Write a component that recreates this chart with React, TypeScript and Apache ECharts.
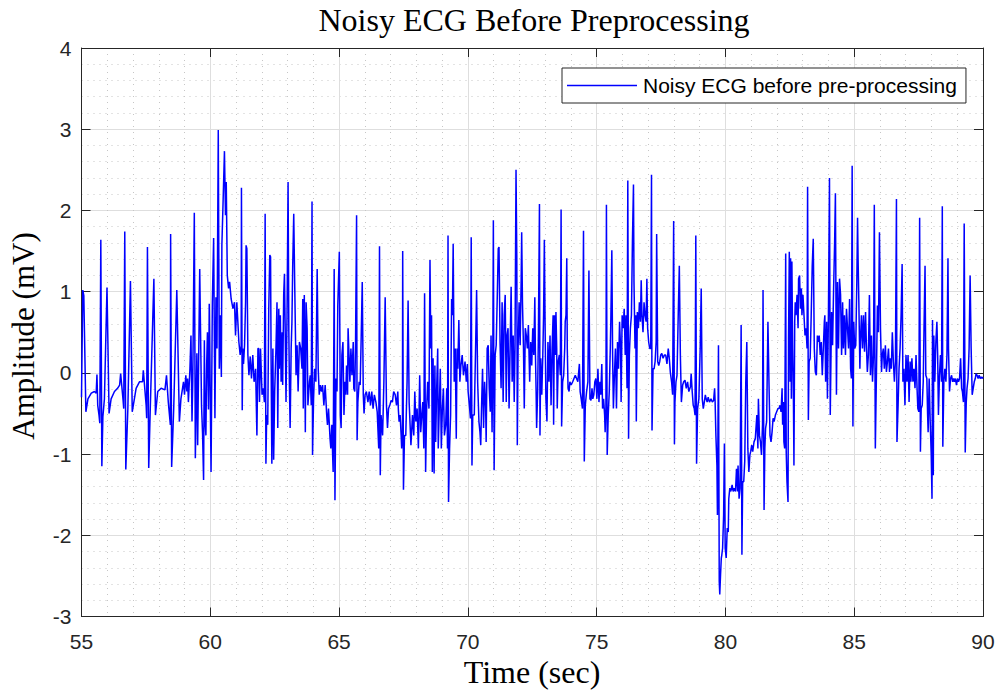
import React, { useEffect, useRef } from "react";
import * as echarts from "echarts";

// Time (sec), amplitude (mV) samples, in six segments
const seg1: number[][] = [
  [55.00,-0.30],[55.05,1.02],[55.09,0.95],[55.17,-0.48],[55.25,-0.32],[55.38,-0.25],[55.50,-0.23],[55.57,-0.25],[55.60,-0.02],[55.63,-0.40],
  [55.68,-0.52],[55.71,-0.62],[55.75,1.64],[55.79,-1.15],[55.83,-0.54],[55.89,-0.32],[55.99,1.05],[56.07,-0.50],[56.15,-0.32],[56.28,-0.23],
  [56.40,-0.19],[56.48,-0.15],[56.52,-0.01],[56.61,-0.32],[56.64,-0.44],[56.68,1.74],[56.72,-1.19],[56.80,-0.44],[56.90,1.13],[56.97,-0.48],
  [57.12,-0.19],[57.25,-0.11],[57.37,-0.11],[57.40,0.03],[57.51,-0.40],[57.53,-0.56],[57.56,1.55],[57.61,-1.17],[57.67,-0.44],[57.81,1.16],
  [57.87,-0.52],[57.96,-0.23],[58.09,-0.19],[58.24,-0.21],[58.30,-0.03],[58.37,-0.36],[58.45,-0.64],[58.46,1.71],[58.50,-1.16],[58.58,-0.44],
  [58.70,1.02],[58.80,-0.60],[58.86,-0.32],[58.96,-0.11],[59.00,-0.27],[59.05,-0.03],[59.09,-0.23],[59.12,-0.07],[59.15,-0.36],[59.21,0.05],
  [59.25,0.46],[59.29,-0.60],[59.32,-0.11],[59.38,1.97],[59.42,-1.05],[59.48,0.24],[59.51,-0.89],[59.59,1.28],[59.62,0.55],[59.66,-0.40],
  [59.70,-0.75],[59.74,-1.32],[59.77,0.40],[59.80,-0.60],[59.83,-0.77],[59.86,0.10],[59.89,0.50],[59.93,-0.45],[59.96,0.85],[60.00,-0.30],
  [60.03,-1.22],[60.08,0.87],[60.13,1.66],[60.18,-0.56],[60.22,0.93],[60.26,0.30],[60.31,2.99],[60.35,0.05],[60.39,0.71],[60.43,-0.05],
  [60.45,1.57],[60.50,2.14],[60.55,2.73],[60.59,1.94],[60.62,2.35],[60.66,1.20],[60.71,1.04]
];
const seg2: number[][] = [
  [60.75,1.12],[60.81,0.91],[60.88,0.79],[60.94,0.87],[60.98,0.46],[61.03,0.87],[61.07,0.63],[61.11,0.38],[61.16,0.22],[61.20,0.34],
  [61.21,2.28],[61.24,-0.46],[61.26,0.30],[61.29,0.11],[61.33,0.34],[61.37,0.87],[61.39,1.57],[61.42,1.53],[61.46,0.22],[61.50,-0.03],
  [61.55,0.20],[61.60,-0.07],[61.65,0.22],[61.70,-0.11],[61.76,0.05],[61.81,-0.77],[61.85,0.30],[61.88,0.30],[61.91,-0.36],[61.95,0.30],
  [62.01,-0.27],[62.06,-0.19],[62.10,-0.36],[62.13,1.96],[62.16,-1.12],[62.19,-0.52],[62.23,-0.64],[62.27,0.79],[62.31,1.45],[62.34,1.43],
  [62.36,0.22],[62.39,-1.12],[62.43,0.30],[62.46,-1.07],[62.50,-0.23],[62.55,0.30],[62.59,0.87],[62.62,-0.68],[62.66,0.79],[62.68,0.05],
  [62.72,0.71],[62.75,-0.11],[62.79,0.50],[62.81,-0.15],[62.85,0.96],[62.88,1.22],[62.92,0.22],[62.94,-0.36],[62.98,0.71],[63.02,2.35],
  [63.05,0.50],[63.07,-0.11],[63.10,-0.68],[63.14,0.30],[63.17,0.63],[63.20,1.32],[63.24,1.96],[63.28,1.04],[63.33,-0.03],[63.37,0.34],
  [63.41,-0.23],[63.46,0.38],[63.51,0.30],[63.56,0.05],[63.59,0.91],[63.61,-0.44],[63.65,0.96],[63.69,-0.73],[63.72,0.87],[63.76,0.55],
  [63.79,-0.40],[63.85,-0.11],[63.88,-0.03],[63.92,-0.40],[63.95,2.11],[63.97,-1.01],[64.01,-0.32],[64.05,0.05],[64.10,-0.11],[64.15,1.28],
  [64.19,0.05],[64.23,-0.27],[64.27,-0.15],[64.32,-0.23],[64.36,-0.15],[64.41,-0.40],[64.46,-0.15],[64.52,-0.52],[64.55,-0.64],[64.59,-0.44],
  [64.65,-0.81],[64.68,-0.93],[64.72,-0.64],[64.75,-1.01],[64.77,-1.22],[64.81,1.28],[64.84,-1.57],[64.88,-0.07],[64.92,-0.23],[64.95,0.83],
  [65.01,1.49],[65.05,-0.52],[65.08,-0.68],[65.11,0.22],[65.15,0.38],[65.19,-0.52],[65.23,-0.11],[65.26,-0.27],[65.29,0.09],[65.33,-0.27],
  [65.35,0.55],[65.39,0.18],[65.42,-0.11],[65.46,0.30],[65.50,-0.03],[65.55,0.38],[65.57,-0.19],[65.61,-0.23],[65.64,0.38],[65.68,1.94],
  [65.70,-0.83],[65.73,-0.36],[65.78,-0.11],[65.82,-0.15],[65.86,0.46],[65.90,1.12],[65.94,-0.27],[65.97,-0.50],[66.01,-0.27],[66.06,-0.23],
  [66.12,-0.36],[66.17,-0.23],[66.22,-0.40],[66.27,-0.23],[66.32,-0.44],[66.37,-0.27],[66.43,-0.36],[66.48,-0.48],[66.54,-0.93],[66.57,1.56],
  [66.60,-1.26]
];
const seg3: number[][] = [
  [66.63,-0.52],[66.69,-0.77],[66.74,-0.11],[66.79,0.93],[66.84,-0.40],[66.88,-0.68],[66.92,-0.44],[66.97,-0.40],[67.02,-0.34],[67.07,-0.36],
  [67.12,-0.23],[67.18,-0.27],[67.23,-0.40],[67.28,-0.23],[67.30,-0.44],[67.33,-0.60],[67.37,-0.52],[67.41,-0.77],[67.43,-0.93],[67.46,-0.73],
  [67.47,1.50],[67.50,-1.44],[67.54,-0.77],[67.59,-0.77],[67.64,-0.11],[67.68,0.89],[67.72,-0.36],[67.76,-0.66],[67.79,-0.89],[67.85,-0.52],
  [67.90,-0.77],[67.94,-0.23],[67.98,-0.60],[68.03,-0.44],[68.08,-0.93],[68.13,-0.03],[68.17,-0.73],[68.21,-0.52],[68.25,-0.36],[68.29,-0.93],
  [68.32,0.98],[68.36,-1.22],[68.40,-0.44],[68.44,-0.11],[68.49,-0.44],[68.53,1.39],[68.56,0.30],[68.59,0.71],[68.62,-1.22],[68.65,0.18],
  [68.69,-1.24],[68.72,0.09],[68.75,-0.85],[68.79,-0.19],[68.83,0.30],[68.85,-0.93],[68.89,-0.44],[68.93,0.05],[68.97,-0.93],[69.01,-0.44],
  [69.05,-0.19],[69.09,-0.77],[69.14,-0.64],[69.18,-0.19],[69.21,-0.93],[69.23,1.69],[69.25,-1.59],[69.29,-0.93],[69.33,-0.52],[69.37,0.91],
  [69.40,0.71],[69.43,1.59],[69.47,-0.11],[69.51,0.30],[69.55,-0.81],[69.58,0.30],[69.61,0.05],[69.65,0.65],[69.69,-0.11],[69.73,0.09],
  [69.78,0.22],[69.83,-0.03],[69.89,0.14],[69.94,-0.11],[69.98,0.11],[70.01,-0.23],[70.07,-0.44],[70.10,-0.56],[70.13,1.67],[70.16,-1.14],
  [70.19,-0.52],[70.25,-0.52],[70.30,0.30],[70.34,1.02],[70.38,-0.11],[70.43,-0.60],[70.47,-0.73],[70.50,-0.89],[70.53,-0.44],[70.57,0.05],
  [70.61,-0.68],[70.65,-0.11],[70.69,-0.40],[70.71,-0.85],[70.75,0.30],[70.79,0.34],[70.83,-0.19],[70.87,-0.48],[70.90,0.46],[70.94,-0.73],
  [70.97,0.30],[70.99,1.88],[71.02,-1.20],[71.06,0.22],[71.10,0.34],[71.14,0.91],[71.18,1.53],[71.21,1.55],[71.25,0.38],[71.29,-0.19],
  [71.33,0.87],[71.37,-0.36],[71.41,0.71],[71.45,0.96],[71.49,-0.36],[71.52,0.46],[71.56,0.55],[71.60,-0.44],[71.64,0.30],[71.68,1.06],
  [71.72,-0.11],[71.76,0.46],[71.80,-0.36],[71.83,0.30],[71.87,2.50],[71.90,1.45],[71.92,-0.89],[71.95,0.30],[71.99,0.87],[72.03,0.34],
  [72.07,1.16],[72.09,1.73],[72.12,0.87],[72.16,0.30],[72.19,-0.44],[72.23,0.55],[72.27,0.46],[72.31,0.30],[72.35,0.59]
];
const seg4: number[][] = [
  [72.40,-0.11],[72.44,0.38],[72.48,0.09],[72.52,0.55],[72.56,0.22],[72.60,0.93],[72.62,0.30],[72.65,-0.23],[72.67,-0.68],[72.71,-0.23],
  [72.74,0.50],[72.78,2.08],[72.80,-0.77],[72.83,0.18],[72.87,-0.27],[72.91,0.22],[72.94,0.71],[72.97,1.64],[73.00,0.55],[73.03,-0.32],
  [73.07,-0.60],[73.11,0.38],[73.15,-0.11],[73.19,0.46],[73.23,-0.40],[73.27,0.30],[73.31,0.71],[73.33,-0.64],[73.36,0.71],[73.40,0.22],
  [73.42,0.75],[73.45,0.30],[73.47,-0.44],[73.51,0.14],[73.55,0.22],[73.59,-0.03],[73.62,2.01],[73.64,-0.66],[73.68,-0.11],[73.72,-0.03],
  [73.76,0.30],[73.78,0.63],[73.81,0.71],[73.84,1.41],[73.86,0.30],[73.89,-0.19],[73.93,-0.23],[73.96,-0.11],[74.01,-0.15],[74.07,-0.11],
  [74.12,-0.07],[74.17,-0.03],[74.22,-0.07],[74.27,-0.11],[74.33,0.11],[74.36,-0.23],[74.40,-0.32],[74.45,-0.44],[74.49,1.75],[74.52,-1.09],
  [74.56,-0.40],[74.61,-0.23],[74.66,-0.11],[74.70,1.26],[74.74,-0.32],[74.78,-0.34],[74.82,-0.19],[74.85,-0.32],[74.89,-0.27],[74.93,-0.11],
  [74.97,-0.07],[75.01,-0.32],[75.05,0.05],[75.09,-0.36],[75.13,-0.11],[75.16,-0.27],[75.20,0.11],[75.23,-0.44],[75.27,-0.32],[75.31,-0.52],
  [75.33,-0.73],[75.36,-0.42],[75.38,2.07],[75.41,-1.01],[75.45,-0.52],[75.49,-0.23],[75.53,0.30],[75.55,0.63],[75.59,1.51],[75.62,0.22],
  [75.65,-0.44],[75.69,-0.03],[75.73,0.30],[75.77,-0.44],[75.81,0.38],[75.85,0.05],[75.89,0.63],[75.93,0.30],[75.95,-0.36],[75.99,0.71],
  [76.03,0.55],[76.07,0.79],[76.11,0.22],[76.14,0.71],[76.18,-0.19],[76.21,2.37],[76.24,-0.81],[76.27,0.22],[76.31,0.55],[76.35,0.71],
  [76.39,1.63],[76.43,2.32],[76.45,1.12],[76.49,0.30],[76.52,0.71],[76.54,-0.60],[76.58,0.75],[76.62,0.55],[76.66,0.87],[76.70,0.63],
  [76.73,1.14],[76.76,0.71],[76.80,0.50],[76.84,0.87],[76.88,0.71],[76.92,0.63],[76.95,1.16],[76.98,0.55],[77.02,0.38],[77.06,0.30],
  [77.10,0.30],[77.13,2.44],[77.15,-0.71],[77.19,0.05],[77.23,0.05],[77.27,0.14],[77.31,0.38],[77.33,1.71],[77.37,0.14],[77.41,0.09],
  [77.45,0.14],[77.49,0.22],[77.53,0.24],[77.58,0.18],[77.63,0.22],[77.68,0.22],[77.73,0.11],[77.78,0.30],[77.82,0.18],[77.86,0.01],
  [77.91,-0.11],[77.95,-0.27],[77.99,1.87],[78.02,-0.88],[78.04,-0.36],[78.08,-0.11],[78.12,-0.03],[78.17,0.75],[78.21,1.32],[78.25,0.22],
  [78.29,-0.36]
];
const seg5: number[][] = [
  [78.34,-0.15],[78.38,-0.11],[78.43,-0.09],[78.48,-0.19],[78.53,-0.11],[78.58,-0.23],[78.64,-0.17],[78.67,-0.01],[78.71,-0.23],[78.75,-0.40],
  [78.79,-0.44],[78.82,-0.52],[78.85,1.69],[78.88,-1.12],[78.92,-0.44],[78.97,-0.32],[79.02,0.30],[79.06,1.04],[79.10,-0.32],[79.14,-0.44],
  [79.18,-0.36],[79.22,-0.27],[79.25,-0.32],[79.29,-0.36],[79.33,-0.30],[79.38,-0.36],[79.44,-0.32],[79.49,-0.36],[79.54,-0.34],[79.58,-0.19],
  [79.60,-0.36],[79.63,-0.77],[79.67,-1.14],[79.69,-1.75],[79.73,0.34],[79.76,-2.57],[79.78,-2.73],[79.81,-2.49],[79.84,-2.28],[79.86,-2.24],
  [79.89,-2.16],[79.93,-1.75],[79.96,-0.87],[79.99,-2.16],[80.03,-2.28],[80.07,-1.91],[80.11,-1.96],[80.13,-1.55],[80.17,-1.42],[80.21,-1.46],
  [80.26,-1.38],[80.30,-1.46],[80.34,-1.42],[80.39,-1.46],[80.43,-1.18],[80.47,-1.46],[80.49,-1.14],[80.53,-1.55],[80.57,-1.42],[80.61,0.59],
  [80.64,-2.24],[80.67,-1.34],[80.71,-1.34],[80.75,-1.09],[80.79,-0.11],[80.83,0.38],[80.87,-0.93],[80.91,-1.22],[80.95,-1.01],[80.98,-0.97],
  [81.02,-0.89],[81.06,-0.97],[81.11,-0.85],[81.16,-0.81],[81.22,-0.52],[81.26,-0.93],[81.28,-0.32],[81.32,-0.77],[81.36,-0.85],[81.40,-1.01],
  [81.44,-0.64],[81.46,1.02],[81.50,-1.69],[81.53,-0.93],[81.56,-0.68],[81.60,-0.60],[81.65,0.63],[81.69,-0.11],[81.73,-0.77],[81.77,-0.85],
  [81.81,-0.73],[81.85,-0.56],[81.89,-0.60],[81.94,-0.52],[81.99,-0.48],[82.04,-0.44],[82.08,-0.44],[82.12,-0.40],[82.16,-0.48],[82.20,-0.19],
  [82.22,-0.64],[82.25,-0.36],[82.27,-0.85],[82.30,-0.93],[82.34,1.47],[82.36,-0.97],[82.39,-1.34],[82.43,-1.59],[82.45,0.42],[82.48,1.49],
  [82.51,-0.11],[82.53,1.41],[82.56,-0.32],[82.58,1.37],[82.61,0.30],[82.64,-0.32],[82.66,-1.14],[82.69,0.63],[82.71,0.87],[82.74,0.71],
  [82.78,0.96],[82.82,0.55],[82.84,1.16],[82.88,1.20],[82.91,0.79],[82.95,1.04],[82.97,0.71],[83.01,0.96],[83.05,0.71],[83.09,0.46],
  [83.13,0.55],[83.17,0.30],[83.19,2.29],[83.22,-0.58],[83.25,0.14],[83.29,0.18],[83.33,0.71],[83.37,1.32],[83.41,1.65],[83.45,0.30],
  [83.49,0.01],[83.53,-0.03],[83.57,0.46],[83.60,0.38],[83.64,0.46],[83.68,0.22],[83.72,0.38],[83.76,-0.03],[83.80,0.30],[83.84,0.63],
  [83.86,0.71],[83.89,-0.11],[83.93,0.63],[83.96,-0.32],[84.00,0.75],[84.04,2.40],[84.07,-0.52]
];
const seg6: number[][] = [
  [84.12,0.75],[84.16,0.34],[84.20,1.04],[84.24,1.61],[84.27,2.21],[84.31,-0.27],[84.35,1.12],[84.39,0.30],[84.43,1.16],[84.47,0.96],
  [84.51,0.22],[84.55,0.87],[84.58,0.30],[84.62,0.71],[84.66,0.22],[84.70,0.79],[84.74,0.55],[84.78,0.30],[84.82,0.91],[84.86,0.05],
  [84.89,-0.07],[84.92,2.55],[84.95,-0.66],[84.98,0.63],[85.02,0.30],[85.06,0.34],[85.10,1.10],[85.13,1.91],[85.15,1.41],[85.18,0.87],
  [85.22,0.05],[85.24,0.38],[85.28,0.71],[85.32,0.30],[85.36,0.71],[85.40,0.26],[85.44,0.75],[85.47,0.38],[85.51,0.01],[85.55,0.22],
  [85.59,0.96],[85.63,-0.03],[85.67,0.46],[85.71,-0.11],[85.75,0.22],[85.78,2.07],[85.82,-0.93],[85.86,-0.07],[85.90,0.83],[85.94,0.50],
  [85.98,1.73],[86.02,0.55],[86.06,0.01],[86.09,0.22],[86.13,0.30],[86.17,0.05],[86.21,0.34],[86.25,0.01],[86.29,0.14],[86.33,0.30],
  [86.37,0.01],[86.40,0.18],[86.44,0.05],[86.48,0.50],[86.52,0.14],[86.56,-0.11],[86.60,0.14],[86.64,2.14],[86.66,-0.85],[86.70,-0.44],
  [86.74,0.05],[86.78,0.30],[86.82,0.71],[86.86,1.34],[86.89,-0.11],[86.93,0.05],[86.97,-0.40],[87.01,0.22],[87.05,-0.11],[87.09,0.22],
  [87.13,-0.36],[87.17,0.14],[87.20,-0.11],[87.24,0.18],[87.28,-0.11],[87.32,0.05],[87.36,-0.19],[87.40,0.22],[87.44,-0.19],[87.47,-0.44],
  [87.51,-0.48],[87.54,1.91],[87.57,-0.97],[87.60,-0.44],[87.64,-0.40],[87.68,-0.11],[87.71,0.55],[87.75,1.32],[87.78,-0.03],[87.82,-0.07],
  [87.85,-0.52],[87.87,-0.73],[87.91,-0.07],[87.95,-0.60],[87.99,-1.01],[88.02,-1.55],[88.04,0.65],[88.07,-1.26],[88.09,0.46],[88.13,-0.11],
  [88.17,0.38],[88.21,0.63],[88.24,0.22],[88.27,-0.52],[88.31,-0.03],[88.35,0.22],[88.39,-0.11],[88.42,2.05],[88.44,-0.91],[88.48,-0.11],
  [88.52,0.05],[88.56,-0.11],[88.60,0.22],[88.64,1.41],[88.66,0.30],[88.70,-0.23],[88.74,-0.07],[88.78,-0.03],[88.82,-0.11],[88.86,-0.07],
  [88.89,-0.11],[88.93,-0.07],[88.97,-0.15],[89.01,-0.07],[89.05,-0.11],[89.09,-0.07],[89.13,0.18],[89.17,-0.19],[89.20,-0.23],[89.24,-0.36],
  [89.27,1.84],[89.31,-0.98],[89.35,-0.36],[89.38,-0.19],[89.42,-0.07],[89.46,0.30],[89.50,1.20],[89.54,0.30],[89.58,-0.27],[89.62,-0.19],
  [89.66,-0.11],[89.70,-0.07],[89.73,-0.01],[89.77,-0.03],[89.81,-0.07],[89.85,-0.03],[89.89,-0.07],[89.93,-0.05],[89.97,-0.07],[90.00,-0.05]
];

const xTicks = [55, 60, 65, 70, 75, 80, 85, 90];
const yTicks = [-3, -2, -1, 0, 1, 2, 3, 4];
const titleText = "Noisy ECG Before Preprocessing";
const xLabel = "Time (sec)";
const yLabel = "Amplitude (mV)";
const seriesName = "Noisy ECG before pre-processing";

const AX = "#262626";
const BLUE = "#0000ff";
const SANS = '"Liberation Sans", Arial, sans-serif';
const SERIF = '"Liberation Serif", "Times New Roman", serif';

export default function App() {
  const ref = useRef<HTMLDivElement>(null);
  useEffect(() => {
    if (!ref.current) return;
    const chart = echarts.init(ref.current, undefined, { renderer: "svg" });
    const data = [...seg1, ...seg2, ...seg3, ...seg4, ...seg5, ...seg6];
    const xMin = xTicks[0], xMax = xTicks[xTicks.length - 1];
    const yMin = yTicks[0], yMax = yTicks[yTicks.length - 1];
    const tickCommon = { show: true, inside: true, length: 9, lineStyle: { color: AX, width: 1 } };
    const majorGrid = { show: true, lineStyle: { color: "#dedede", width: 1 } };
    const minorGrid = { show: true, lineStyle: { color: "#c6c6c6", width: 1, type: [1, 5] } };
    chart.setOption({
      animation: false,
      backgroundColor: "#ffffff",
      grid: { left: 81.5, right: 17, top: 48, bottom: 76.5, containLabel: false },
      legend: {
        data: [{ name: seriesName, itemStyle: { color: BLUE } }],
        left: 562,
        top: 68,
        icon: "rect",
        itemWidth: 70,
        itemHeight: 1.6,
        itemGap: 0,
        padding: [7, 9, 7, 5],
        backgroundColor: "#ffffff",
        borderColor: AX,
        borderWidth: 1,
        borderRadius: 0,
        itemStyle: { color: BLUE, borderWidth: 0 },
        lineStyle: { inactiveColor: BLUE },
        textStyle: { fontFamily: SANS, fontSize: 21, color: "#000000", padding: [0, 0, 0, 1] },
      },
      xAxis: [
        {
          type: "value", min: xMin, max: xMax, interval: 5, position: "bottom",
          axisLine: { show: true, onZero: false, lineStyle: { color: AX, width: 1 } },
          axisTick: tickCommon,
          axisLabel: { show: true, margin: 14, fontFamily: SANS, fontSize: 21, color: AX },
          splitLine: majorGrid,
          minorTick: { show: false, splitNumber: 5 },
          minorSplitLine: minorGrid,
        },
        {
          type: "value", min: xMin, max: xMax, interval: 5, position: "top",
          axisLine: { show: true, onZero: false, lineStyle: { color: AX, width: 1 } },
          axisTick: tickCommon,
          axisLabel: { show: false },
          splitLine: { show: false },
        },
      ],
      yAxis: [
        {
          type: "value", min: yMin, max: yMax, interval: 1, position: "left",
          axisLine: { show: true, onZero: false, lineStyle: { color: AX, width: 1 } },
          axisTick: tickCommon,
          axisLabel: { show: true, margin: 10, fontFamily: SANS, fontSize: 21, color: AX },
          splitLine: majorGrid,
          minorTick: { show: false, splitNumber: 5 },
          minorSplitLine: minorGrid,
        },
        {
          type: "value", min: yMin, max: yMax, interval: 1, position: "right",
          axisLine: { show: true, onZero: false, lineStyle: { color: AX, width: 1 } },
          axisTick: tickCommon,
          axisLabel: { show: false },
          splitLine: { show: false },
        },
      ],
      graphic: [
        {
          type: "text", x: 534, y: 20,
          style: { text: titleText, font: `32px ${SERIF}`, fill: "#000000", textAlign: "center", textVerticalAlign: "middle" },
        },
        {
          type: "text", x: 532, y: 672,
          style: { text: xLabel, font: `32px ${SERIF}`, fill: "#000000", textAlign: "center", textVerticalAlign: "middle" },
        },
        {
          type: "text", x: 23, y: 336, rotation: Math.PI / 2,
          style: { text: yLabel, font: `31px ${SERIF}`, fill: "#000000", textAlign: "center", textVerticalAlign: "middle" },
        },
      ],
      series: [
        {
          name: seriesName,
          type: "line",
          xAxisIndex: 0,
          yAxisIndex: 0,
          data,
          showSymbol: false,
          symbol: "none",
          lineStyle: { color: BLUE, width: 1.5 },
          itemStyle: { color: BLUE },
          clip: true,
        },
      ],
    });
    return () => chart.dispose();
  }, []);
  return (
    <div
      ref={ref}
      style={{ position: "absolute", left: 0, top: 0, width: 1000, height: 693, background: "#fff" }}
    />
  );
}
